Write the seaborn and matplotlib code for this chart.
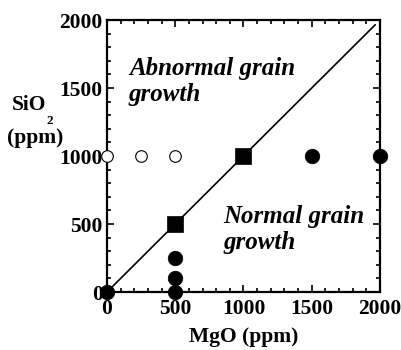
import matplotlib
matplotlib.use("Agg")
import matplotlib.pyplot as plt
import seaborn as sns
from matplotlib.ticker import MultipleLocator

sns.set_style("white")
plt.rcParams['font.family'] = ['Liberation Serif', 'DejaVu Serif']
plt.rcParams['font.weight'] = 'bold'
for k in ['text.color', 'axes.labelcolor', 'xtick.color', 'ytick.color', 'axes.edgecolor']:
    plt.rcParams[k] = 'black'

# data
filled_mgo = [0, 500, 500, 500, 1500, 2000]
filled_sio2 = [0, 0, 100, 250, 1000, 1000]
open_mgo = [0, 250, 500]
open_sio2 = [1000, 1000, 1000]
square_mgo = [500, 1000]
square_sio2 = [500, 1000]
line_mgo = [0, 1965]
line_sio2 = [0, 1965]

fig = plt.figure(figsize=(4.02, 3.5), dpi=100)
ax = fig.add_axes([107/402, 1-292/350, (380-107)/402, (292-20)/350])

sns.lineplot(x=line_mgo, y=line_sio2, ax=ax, color='black', lw=1.2, zorder=2)
sns.scatterplot(x=filled_mgo, y=filled_sio2, ax=ax, color='black', marker='o', s=110,
                edgecolor='black', linewidth=0.5, zorder=3, clip_on=False)
sns.scatterplot(x=open_mgo, y=open_sio2, ax=ax, facecolor='white', marker='o', s=70,
                edgecolor='black', linewidth=0.8, zorder=3, clip_on=False)
sns.scatterplot(x=square_mgo, y=square_sio2, ax=ax, color='black', marker='s', s=120,
                edgecolor='black', linewidth=0.5, zorder=3, clip_on=False)

ax.set_xlim(0, 2000)
ax.set_ylim(0, 2000)
ax.xaxis.set_major_locator(MultipleLocator(500))
ax.yaxis.set_major_locator(MultipleLocator(500))
ax.xaxis.set_minor_locator(MultipleLocator(100))
ax.yaxis.set_minor_locator(MultipleLocator(100))
ax.tick_params(which='both', direction='in', top=True, right=True, bottom=True, left=True,
               color='black', width=1.2)
ax.tick_params(which='major', length=5, labelsize=15.5)
ax.tick_params(axis='x', which='major', pad=5)
ax.tick_params(axis='y', which='major', pad=3)
ax.tick_params(which='minor', length=3)
for lab in ax.get_xticklabels() + ax.get_yticklabels():
    lab.set_fontweight('bold')
for sp in ax.spines.values():
    sp.set_visible(True)
    sp.set_color('black')
    sp.set_linewidth(1.6)

ax.set_xlabel('MgO (ppm)', fontsize=15.5, fontweight='bold', labelpad=6)
ax.set_ylabel('')

ax.text(160, 1550, 'Abnormal grain\ngrowth', fontsize=18, fontweight='bold', style='italic',
        ha='left', va='center', linespacing=1.15)
ax.text(850, 460, 'Normal grain\ngrowth', fontsize=18, fontweight='bold', style='italic',
        ha='left', va='center', linespacing=1.15)

fig.text(29.5/402, 1-105.5/350, 'SiO', fontsize=15.5, fontweight='bold', ha='center', va='center')
fig.text(47/402, 1-121/350, '2', fontsize=9.5, fontweight='bold', ha='left', va='center')
fig.text(35.5/402, 1-138/350, '(ppm)', fontsize=15.5, fontweight='bold', ha='center', va='center')

fig.savefig('out.png', dpi=100)
